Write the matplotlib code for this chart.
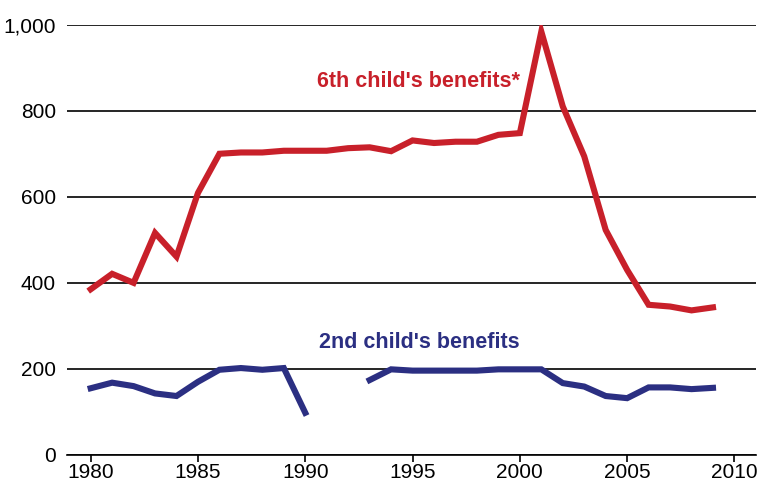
import matplotlib.pyplot as plt
import numpy as np

plt.rcParams['font.family'] = ['Liberation Sans', 'DejaVu Sans']

years = np.arange(1980, 2010)

# 6th child's benefits
sixth = [385, 421, 400, 516, 461, 609, 700, 703, 703, 707,
         707, 707, 713, 715, 706, 731, 725, 728, 728, 744,
         748, 984, 810, 694, 523, 430, 349, 345, 336, 343]

# 2nd child's benefits (no data 1991-1992)
second = [155, 168, 160, 143, 137, 170, 198, 202, 198, 202,
          98, np.nan, np.nan, 174, 199, 196, 196, 196, 196, 199,
          199, 199, 167, 159, 137, 132, 157, 157, 153, 156]

red = '#C8202A'
blue = '#2B2F82'

fig = plt.figure(figsize=(7.62, 4.84), dpi=100)
ax = fig.add_axes([0.088, 0.06, 0.904, 0.889])

ax.plot(years, sixth, color=red, lw=4.4, solid_joinstyle='miter', zorder=3)
ax.plot(years, second, color=blue, lw=4.4, solid_joinstyle='miter', zorder=3)

ax.text(1995.3, 867, "6th child's benefits*", color=red, fontsize=15.5,
        fontweight='bold', ha='center', va='center')
ax.text(1995.3, 262, "2nd child's benefits", color=blue, fontsize=15.5,
        fontweight='bold', ha='center', va='center')

ax.set_xlim(1978.9, 2011)
ax.set_ylim(0, 1000)
ax.set_yticks([0, 200, 400, 600, 800, 1000])
ax.set_yticklabels(['0', '200', '400', '600', '800', '1,000'])
ax.set_xticks([1980, 1985, 1990, 1995, 2000, 2005, 2010])
ax.yaxis.grid(True, color='black', lw=1.2)
ax.set_axisbelow(True)

for s in ['top', 'right', 'left']:
    ax.spines[s].set_visible(False)
ax.spines['bottom'].set_linewidth(1.2)
ax.tick_params(axis='y', length=0, labelsize=15, pad=8)
ax.tick_params(axis='x', length=5, width=1.2, labelsize=15, pad=1)

fig.savefig('out.png')
